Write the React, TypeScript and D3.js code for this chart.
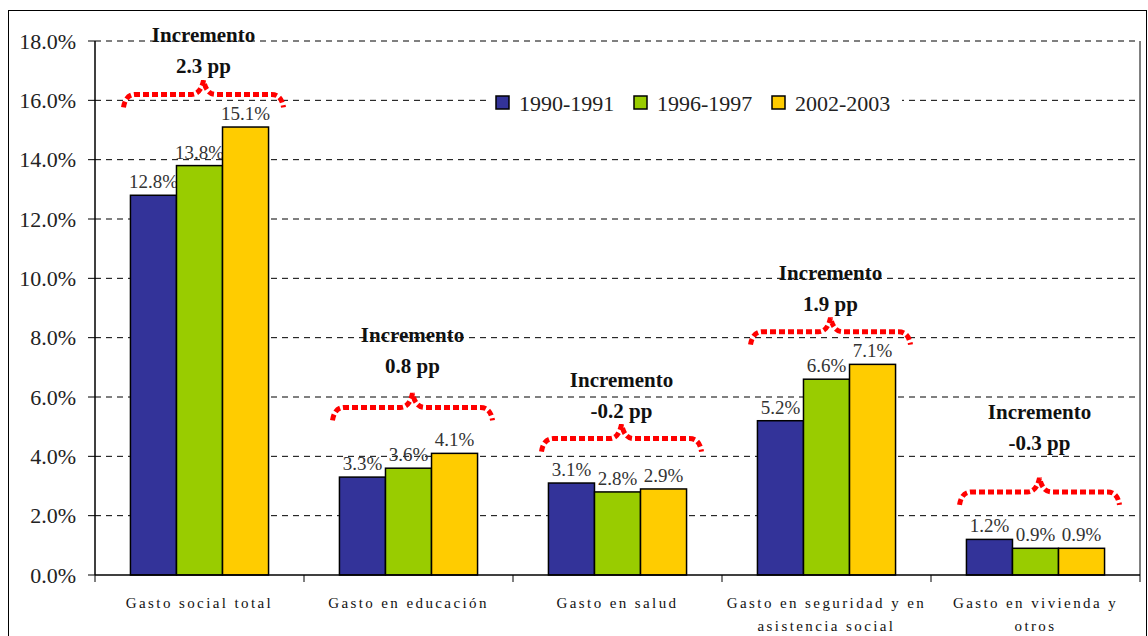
import * as d3 from 'd3'

// categories (| marks a line break in the axis label)
const categories = [
  'Gasto social total',
  'Gasto en educación',
  'Gasto en salud',
  'Gasto en seguridad y en|asistencia social',
  'Gasto en vivienda y|otros',
]
const series = ['1990-1991', '1996-1997', '2002-2003']
const values1990 = [12.8, 3.3, 3.1, 5.2, 1.2]
const values1996 = [13.8, 3.6, 2.8, 6.6, 0.9]
const values2002 = [15.1, 4.1, 2.9, 7.1, 0.9]
const increments = ['2.3 pp', '0.8 pp', '-0.2 pp', '1.9 pp', '-0.3 pp']
// level (in % of the y axis) of each brace and of each "Incremento" note
const braceLevels = [16.2, 5.65, 4.6, 8.2, 2.8]
const noteLevels = [18.2, 8.1, 6.6, 10.2, 5.5]
const yTicks = [0, 2, 4, 6, 8, 10, 12, 14, 16, 18]

const colors = ['#333399', '#99CC00', '#FFCC00']
const tf = { fontFamily: 'Liberation Serif' }

const W = 1148
const H = 636
const left = 95
const right = 1140
const top = 41
const bottom = 575

const App = () => {
  const seriesValues = [values1990, values1996, values2002]

  const y = d3.scaleLinear().domain([0, 18]).range([bottom, top])
  const x0 = d3.scaleBand().domain(categories).range([left, right]).padding(0)
  const x1 = d3.scaleBand().domain(series).range([0, x0.bandwidth()]).paddingInner(0).paddingOuter(0.77)

  const bracePath = (cx: number, by: number) =>
    `M${cx - 80},${by + 13} Q${cx - 78},${by} ${cx - 68},${by} L${cx - 12},${by} ` +
    `Q${cx - 3},${by} ${cx},${by - 14} Q${cx + 3},${by} ${cx + 12},${by} ` +
    `L${cx + 68},${by} Q${cx + 78},${by} ${cx + 80},${by + 13}`

  return (
    <svg width={W} height={H} style={{ position: 'absolute', left: 0, top: 0, background: '#fff' }}>
      <rect x={8.5} y={10.5} width={1138} height={640} fill="#fff" stroke="#000" strokeWidth={1} />

      {/* grid + y ticks */}
      {yTicks.map(t => (
        <g key={t}>
          {t > 0 && (
            <line x1={left} x2={right} y1={y(t)} y2={y(t)} stroke="#000" strokeWidth={1} strokeDasharray="6 5" />
          )}
          <line x1={left - 7} x2={left} y1={y(t)} y2={y(t)} stroke="#000" strokeWidth={1} />
          <text x={76} y={y(t)} dy="0.35em" textAnchor="end" fontSize={22} fill="#222" style={tf}>
            {t.toFixed(1)}%
          </text>
        </g>
      ))}

      {/* legend */}
      <rect x={487} y={88} width={415} height={30} fill="#fff" />
      {series.map((s, i) => {
        const lx = [496, 634, 772][i]
        return (
          <g key={s}>
            <rect x={lx} y={96} width={13} height={13} fill={colors[i]} stroke="#000" strokeWidth={1.5} />
            <text x={lx + 23} y={111} fontSize={22} fill="#222" style={tf}>{s}</text>
          </g>
        )
      })}

      {/* bars */}
      {categories.map((c, ci) => (
        <g key={c} transform={`translate(${x0(c)},0)`}>
          {series.map((s, si) => {
            const v = seriesValues[si][ci]
            const bx = x1(s) as number
            return (
              <g key={s}>
                <rect x={bx} y={y(v)} width={x1.bandwidth()} height={bottom - y(v)}
                  fill={colors[si]} stroke="#000" strokeWidth={1.5} />
                <text x={bx + x1.bandwidth() / 2} y={y(v) - 7} textAnchor="middle" fontSize={19} fill="#333" style={tf}>
                  {v.toFixed(1)}%
                </text>
              </g>
            )
          })}
        </g>
      ))}

      {/* axes */}
      <line x1={left} x2={left} y1={top} y2={bottom} stroke="#000" strokeWidth={1.5} />
      <line x1={right} x2={right} y1={top} y2={bottom} stroke="#000" strokeWidth={1} />
      <line x1={left} x2={right} y1={bottom} y2={bottom} stroke="#000" strokeWidth={1.5} />
      {categories.map(c => (
        <line key={'t' + c} x1={x0(c)} x2={x0(c)} y1={bottom} y2={bottom + 7} stroke="#000" />
      ))}
      <line x1={right} x2={right} y1={bottom} y2={bottom + 7} stroke="#000" />
      {categories.map(c => (
        <text key={'l' + c} x={(x0(c) as number) + x0.bandwidth() / 2} textAnchor="middle"
          fontSize={15} letterSpacing={2.4} fill="#111" style={tf}>
          {c.split('|').map((line, li) => (
            <tspan key={li} x={(x0(c) as number) + x0.bandwidth() / 2} y={608 + li * 23}>{line}</tspan>
          ))}
        </text>
      ))}

      {/* increment annotations */}
      {categories.map((c, ci) => {
        const cx = (x0(c) as number) + x0.bandwidth() / 2
        const ny = y(noteLevels[ci])
        return (
          <g key={'a' + c}>
            <path d={bracePath(cx + 4, y(braceLevels[ci]))} fill="none" stroke="#FF0000"
              strokeWidth={5} strokeDasharray="6 3" />
            <text x={cx + 4} y={ny} dy="0.35em" textAnchor="middle" fontSize={21} fontWeight="bold" fill="#111" style={tf}>
              Incremento
            </text>
            <text x={cx + 4} y={ny + 31} dy="0.35em" textAnchor="middle" fontSize={21} fontWeight="bold" fill="#111" style={tf}>
              {increments[ci]}
            </text>
          </g>
        )
      })}
    </svg>
  )
}

export default App
